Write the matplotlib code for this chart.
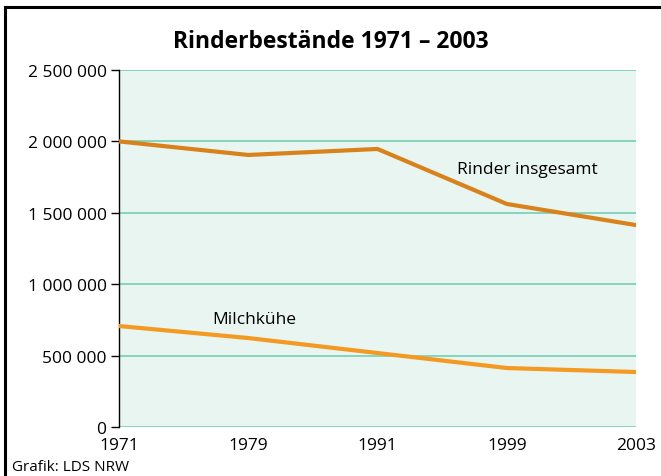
import matplotlib.pyplot as plt
from matplotlib.lines import Line2D
from matplotlib.ticker import FuncFormatter

years = ["1971", "1979", "1991", "1999", "2003"]
rinder = [2000000, 1905000, 1947000, 1562000, 1414000]
milchkuehe = [707000, 623000, 518000, 413000, 385000]
y_ticks = [0, 500000, 1000000, 1500000, 2000000, 2500000]

plt.rcParams['font.family'] = ['Open Sans', 'DejaVu Sans']

fig = plt.figure(figsize=(6.61, 4.77), dpi=100)
ax = fig.add_axes([119 / 661, 1 - 428 / 477, (636 - 119) / 661, (428 - 71) / 477])

x = list(range(len(years)))
ax.set_facecolor("#e8f5f0")
for t in y_ticks:
    ax.axhline(t, color="#74cfb6", lw=1.2, zorder=1)
ax.plot(x, rinder, color="#d9821c", lw=3, solid_capstyle="round", zorder=3)
ax.plot(x, milchkuehe, color="#f49a22", lw=3, solid_capstyle="round", zorder=3)

ax.set_xlim(0, len(years) - 1)
ax.set_ylim(0, 2500000)
ax.set_xticks(x)
ax.set_xticklabels(years)
ax.set_yticks(y_ticks)
ax.yaxis.set_major_formatter(FuncFormatter(lambda v, p: f"{int(v):,}".replace(",", " ")))
ax.tick_params(axis="y", length=6, width=1, color="black", labelsize=12.5, pad=3)
ax.tick_params(axis="x", length=0, labelsize=12.5, pad=7)
for s in ["top", "right", "bottom"]:
    ax.spines[s].set_visible(False)
ax.spines["left"].set_color("black")
ax.spines["left"].set_linewidth(1)

ax.text(3.16, 1807000, "Rinder insgesamt", fontsize=12.5, ha="center", va="center")
ax.text(1.05, 756000, "Milchkühe", fontsize=12.5, ha="center", va="center")

fig.text(0.5, 1 - 42 / 477, "Rinderbestände 1971 – 2003", fontsize=16.5, fontweight="bold",
         ha="center", va="center")
fig.text(12 / 661, 1 - 468 / 477, "Grafik: LDS NRW", fontsize=11, ha="left", va="center")

fig.add_artist(Line2D([5 / 661, 5 / 661], [0, 1 - 8 / 477], transform=fig.transFigure,
                      color="black", lw=2.2))
fig.add_artist(Line2D([5 / 661, 1], [1 - 8 / 477, 1 - 8 / 477], transform=fig.transFigure,
                      color="black", lw=2.2))

fig.savefig("out.png", dpi=100)
